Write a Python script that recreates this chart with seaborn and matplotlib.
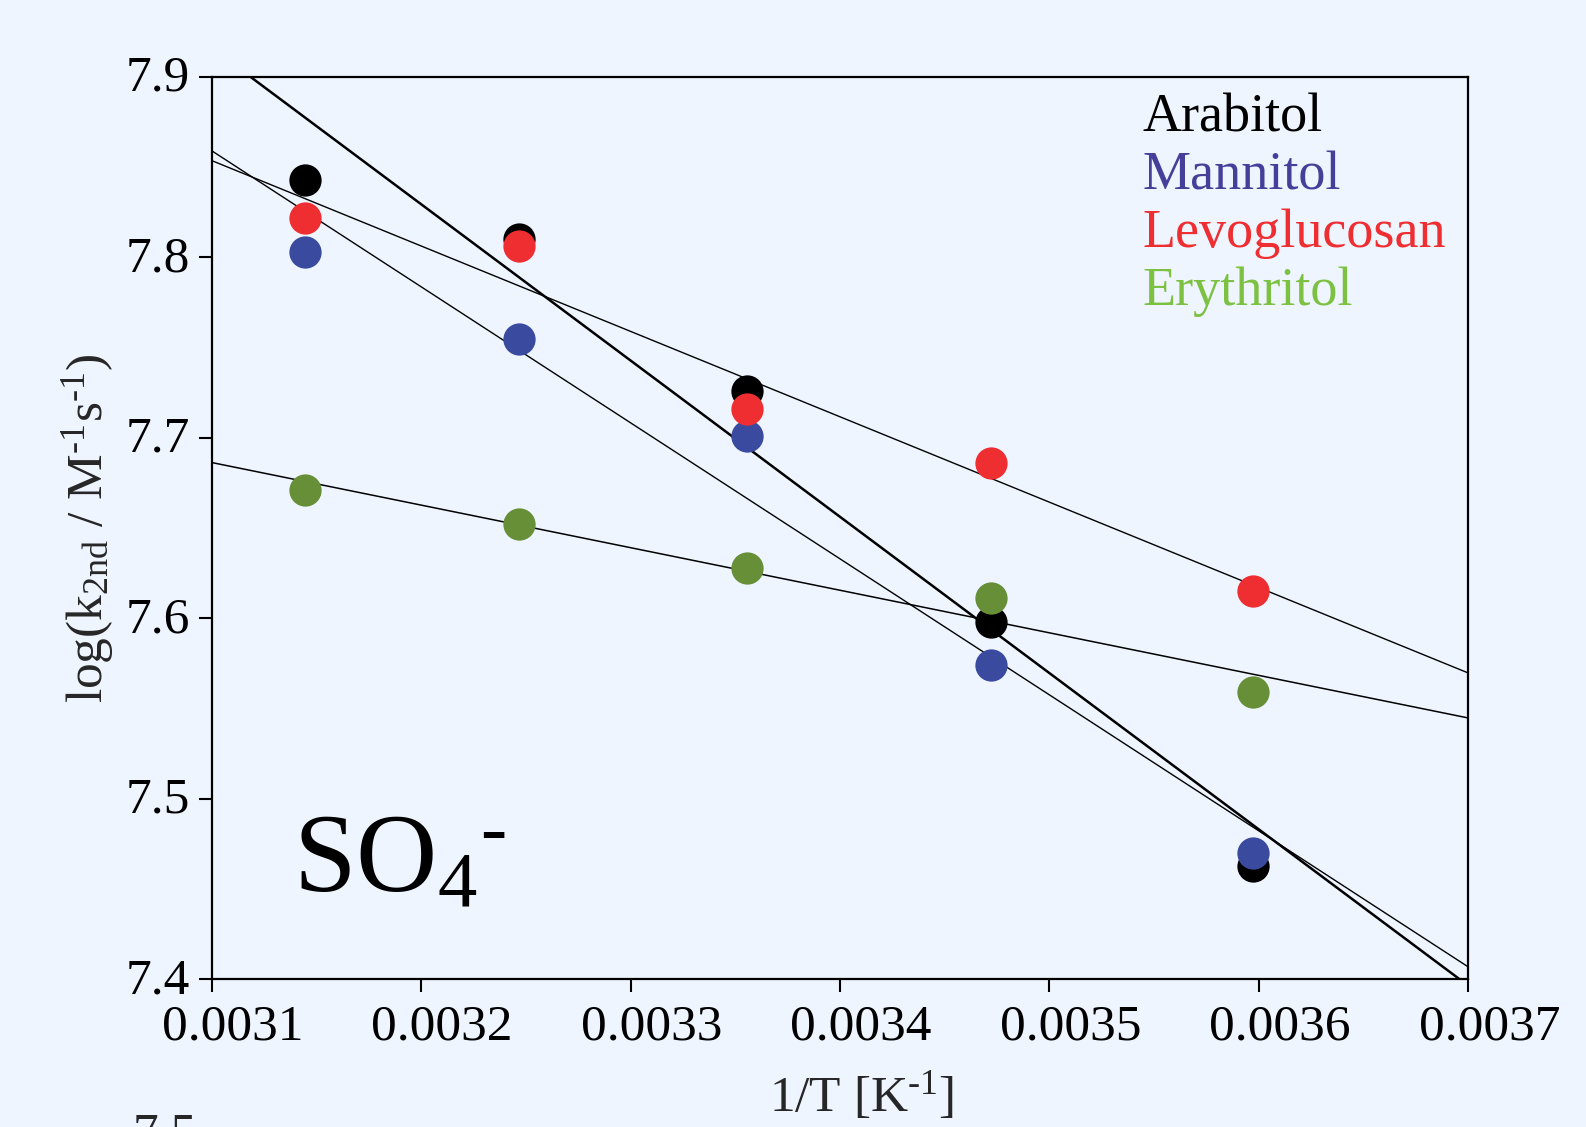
import numpy as np
import pandas as pd
import matplotlib
matplotlib.use("Agg")
import matplotlib.pyplot as plt
import matplotlib.transforms as mtransforms
import seaborn as sns

# measured temperatures and second-order rate constants (log10)
temperature_K = [318, 308, 298, 288, 278]
compounds = ["Arabitol", "Mannitol", "Levoglucosan", "Erythritol"]
log_k_arabitol = [7.843, 7.810, 7.726, 7.598, 7.463]
log_k_mannitol = [7.803, 7.755, 7.701, 7.574, 7.470]
log_k_levoglucosan = [7.822, 7.806, 7.716, 7.686, 7.615]
log_k_erythritol = [7.671, 7.652, 7.628, 7.611, 7.559]

point_colors = ["#000000", "#3A4A9E", "#EE2E31", "#678F38"]
label_colors = ["#000000", "#473E99", "#EE2E31", "#7DC142"]
fit_widths = [1.8, 1.0, 1.0, 1.1]

x_ticks = [0.0031, 0.0032, 0.0033, 0.0034, 0.0035, 0.0036, 0.0037]
x_tick_labels = ["0.0031", "0.0032", "0.0033", "0.0034", "0.0035", "0.0036", "0.0037"]
y_ticks = [7.4, 7.5, 7.6, 7.7, 7.8, 7.9]
y_tick_labels = ["7.4", "7.5", "7.6", "7.7", "7.8", "7.9"]

inv_T = 1.0 / np.array(temperature_K, dtype=float)
values = [log_k_arabitol, log_k_mannitol, log_k_levoglucosan, log_k_erythritol]
df = pd.concat(
    [pd.DataFrame({"inv_T": inv_T, "log_k": v, "compound": c}) for c, v in zip(compounds, values)],
    ignore_index=True,
)

bg = "#EEF5FF"
sns.set_style("ticks")
plt.rcParams["font.family"] = ["Liberation Serif", "DejaVu Serif"]
plt.rcParams["mathtext.fontset"] = "custom"
plt.rcParams["mathtext.rm"] = "Liberation Serif"
plt.rcParams["mathtext.it"] = "Liberation Serif:italic"
plt.rcParams["mathtext.default"] = "regular"

fig = plt.figure(figsize=(15.86, 11.27), dpi=100, facecolor=bg)
ax = fig.add_axes([0.1335, 0.131, 0.7923, 0.8009])
ax.set_facecolor(bg)
ax.set_xlim(0.0031, 0.0037)
ax.set_ylim(7.4, 7.9)

for i, (name, sub) in enumerate(df.groupby("compound", sort=False)):
    sns.regplot(
        data=sub, x="inv_T", y="log_k", ax=ax, ci=None, truncate=False,
        scatter_kws=dict(s=540, color=point_colors[i], linewidths=0, alpha=1, zorder=3 if i == 0 else 4),
        line_kws=dict(color="black", lw=fit_widths[i], zorder=2),
    )

ax.set_xlim(0.0031, 0.0037)
ax.set_ylim(7.4, 7.9)
ax.set_xticks(x_ticks)
ax.set_xticklabels(x_tick_labels)
ax.set_yticks(y_ticks)
ax.set_yticklabels(y_tick_labels)
ax.minorticks_off()
ax.tick_params(direction="out", length=9.4, width=1.5, labelsize=37, colors="black")
ax.tick_params(axis="x", pad=8)
ax.tick_params(axis="y", pad=6)
for side in ["left", "right", "top", "bottom"]:
    ax.spines[side].set_visible(True)
    ax.spines[side].set_linewidth(1.6)
    ax.spines[side].set_color("black")

# tick labels in the original sit a little to the right / up
shift_x = mtransforms.ScaledTranslation(0.21, 0, fig.dpi_scale_trans)
for lab in ax.get_xticklabels():
    lab.set_transform(lab.get_transform() + shift_x)
shift_y = mtransforms.ScaledTranslation(0, 0.04, fig.dpi_scale_trans)
for lab in ax.get_yticklabels():
    lab.set_transform(lab.get_transform() + shift_y)

ax.set_xlabel(r"1/T [K$^{\text{-1}}$]", fontsize=37)
ax.xaxis.set_label_coords(0.517, -0.100)
ax.set_ylabel(r"log(k$_{\text{2nd}}$ / M$^{\text{-1}}$s$^{\text{-1}}$)", fontsize=37)
ax.yaxis.set_label_coords(-0.076, 0.5)

# coloured legend text
for j, (name, col) in enumerate(zip(compounds, label_colors)):
    ax.text(0.741, 0.939 - j * 0.0639, name, color=col, fontsize=39,
            transform=ax.transAxes, va="baseline", ha="left")

ax.text(0.0647, 0.097, r"SO$_4$$^{\text{-}}$", fontsize=81, transform=ax.transAxes,
        va="baseline", ha="left", color="black")

# piece of the neighbouring panel showing at the bottom edge
fig.text(133 / 1586, 1 - 1111.7 / 1127, "7.5", fontsize=37, va="top", ha="left")

fig.savefig("out.png", dpi=100, facecolor=bg)
